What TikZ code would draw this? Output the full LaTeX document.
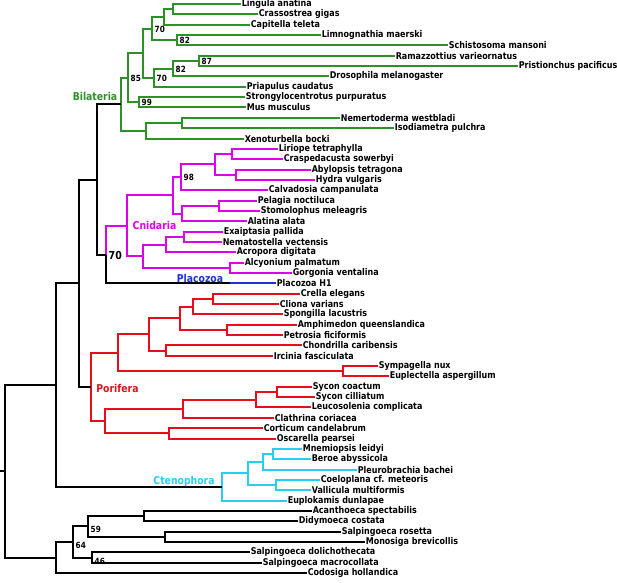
\documentclass[tikz,border=0pt]{standalone}
\usepackage{fontspec}
\setmainfont{DejaVu Sans}
\newfontfamily\treefont{DejaVu Sans}[FakeStretch=0.86]
\definecolor{bilgreen}{RGB}{45,145,40}
\definecolor{cnidmag}{RGB}{220,0,235}
\definecolor{placblue}{RGB}{30,50,205}
\definecolor{porred}{RGB}{230,15,25}
\definecolor{ctecyan}{RGB}{40,205,240}
\begin{document}
\begin{tikzpicture}[x=1pt,y=-1pt]

	\tikzstyle{leaf}=[anchor=west,inner sep=0.6pt,font=\treefont\fontsize{9.3}{10}\selectfont\bfseries]
	\tikzstyle{sup}=[anchor=west,inner sep=0pt,xshift=2.5pt,font=\treefont\fontsize{8.5}{9}\selectfont\bfseries]
	\tikzstyle{clade}=[inner sep=0pt,font=\treefont\fontsize{10.8}{12}\selectfont\bfseries]
	\tikzstyle{branch}=[line width=2pt]
	\useasboundingbox (0,0) rectangle (617,582);

	% leaves
	\node[leaf] (lin) at (241,4) {Lingula anatina};
	\node[leaf] (cra) at (258,14) {Crassostrea gigas};
	\node[leaf] (cap) at (250,25) {Capitella teleta};
	\node[leaf] (lim) at (321,35) {Limnognathia maerski};
	\node[leaf] (sch) at (448,45) {Schistosoma mansoni};
	\node[leaf] (ram) at (395,56) {Ramazzottius varieornatus};
	\node[leaf] (pri) at (518,66) {Pristionchus pacificus};
	\node[leaf] (dro) at (329,76) {Drosophila melanogaster};
	\node[leaf] (pra) at (246,87) {Priapulus caudatus};
	\node[leaf] (str) at (245,97) {Strongylocentrotus purpuratus};
	\node[leaf] (mus) at (246,107) {Mus musculus};
	\node[leaf] (nem) at (340,118) {Nemertoderma westbladi};
	\node[leaf] (iso) at (394,128) {Isodiametra pulchra};
	\node[leaf] (xen) at (244,139) {Xenoturbella bocki};
	\node[leaf] (lir) at (278,149) {Liriope tetraphylla};
	\node[leaf] (cpd) at (283,159) {Craspedacusta sowerbyi};
	\node[leaf] (aby) at (311,170) {Abylopsis tetragona};
	\node[leaf] (hyd) at (315,180) {Hydra vulgaris};
	\node[leaf] (cal) at (268,190) {Calvadosia campanulata};
	\node[leaf] (pel) at (257,201) {Pelagia noctiluca};
	\node[leaf] (sto) at (260,211) {Stomolophus meleagris};
	\node[leaf] (ala) at (247,221) {Alatina alata};
	\node[leaf] (exa) at (223,232) {Exaiptasia pallida};
	\node[leaf] (nvc) at (222,242) {Nematostella vectensis};
	\node[leaf] (acr) at (236,252) {Acropora digitata};
	\node[leaf] (alc) at (244,263) {Alcyonium palmatum};
	\node[leaf] (gor) at (292,273) {Gorgonia ventalina};
	\node[leaf] (plh) at (276,283) {Placozoa H1};
	\node[leaf] (cre) at (300,294) {Crella elegans};
	\node[leaf] (cli) at (279,304) {Cliona varians};
	\node[leaf] (spo) at (283,314) {Spongilla lacustris};
	\node[leaf] (amp) at (297,325) {Amphimedon queenslandica};
	\node[leaf] (pet) at (283,335) {Petrosia ficiformis};
	\node[leaf] (cho) at (302,345) {Chondrilla caribensis};
	\node[leaf] (irc) at (273,356) {Ircinia fasciculata};
	\node[leaf] (sym) at (378,366) {Sympagella nux};
	\node[leaf] (eup) at (389,376) {Euplectella aspergillum};
	\node[leaf] (syc) at (312,387) {Sycon coactum};
	\node[leaf] (syi) at (315,397) {Sycon cilliatum};
	\node[leaf] (leu) at (311,407) {Leucosolenia complicata};
	\node[leaf] (cla) at (274,418) {Clathrina coriacea};
	\node[leaf] (cor) at (263,428) {Corticum candelabrum};
	\node[leaf] (osc) at (276,439) {Oscarella pearsei};
	\node[leaf] (mne) at (302,449) {Mnemiopsis leidyi};
	\node[leaf] (ber) at (311,459) {Beroe abyssicola};
	\node[leaf] (ple) at (357,470) {Pleurobrachia bachei};
	\node[leaf] (coe) at (320,480) {Coeloplana cf. meteoris};
	\node[leaf] (val) at (311,490) {Vallicula multiformis};
	\node[leaf] (epl) at (287,501) {Euplokamis dunlapae};
	\node[leaf] (aca) at (312,511) {Acanthoeca spectabilis};
	\node[leaf] (did) at (298,521) {Didymoeca costata};
	\node[leaf] (sro) at (341,532) {Salpingoeca rosetta};
	\node[leaf] (mon) at (365,542) {Monosiga brevicollis};
	\node[leaf] (sdo) at (250,552) {Salpingoeca dolichothecata};
	\node[leaf] (sma) at (262,563) {Salpingoeca macrocollata};
	\node[leaf] (cod) at (307,573) {Codosiga hollandica};

	% internal nodes
	\coordinate (b1) at (173,9);
	\coordinate (b2) at (164,17);
	\coordinate (b3) at (177,40);
	\coordinate (b4) at (152,29);
	\coordinate (b5) at (199,61);
	\coordinate (b6) at (173,69);
	\coordinate (b7) at (154,78);
	\coordinate (b8) at (143,53);
	\coordinate (b9) at (139,102);
	\coordinate (b10) at (128,78);
	\coordinate (b11) at (182,123);
	\coordinate (b12) at (146,131);
	\coordinate (b13) at (121,104);
	\coordinate (c1) at (232,154);
	\coordinate (c2) at (236,175);
	\coordinate (c3) at (215,164);
	\coordinate (c4) at (181,177);
	\coordinate (c5) at (219,206);
	\coordinate (c6) at (182,214);
	\coordinate (c7) at (173,195);
	\coordinate (c8) at (184,237);
	\coordinate (c9) at (166,245);
	\coordinate (c10) at (230,268);
	\coordinate (c11) at (143,256);
	\coordinate (c12) at (127,226);
	\coordinate (c13) at (106,255);
	\coordinate (pz) at (230,283);
	\coordinate (p1) at (213,299);
	\coordinate (p2) at (193,307);
	\coordinate (p3) at (227,330);
	\coordinate (p4) at (180,318);
	\coordinate (p5) at (166,351);
	\coordinate (p6) at (149,334);
	\coordinate (p7) at (343,371);
	\coordinate (p8) at (118,353);
	\coordinate (p9) at (277,392);
	\coordinate (p10) at (256,400);
	\coordinate (p11) at (183,409);
	\coordinate (p12) at (169,433);
	\coordinate (p13) at (105,421);
	\coordinate (p14) at (91,387);
	\coordinate (e1) at (273,454);
	\coordinate (e2) at (263,462);
	\coordinate (e3) at (276,485);
	\coordinate (e4) at (248,473);
	\coordinate (e5) at (222,487);
	\coordinate (h1) at (144,516);
	\coordinate (h2) at (165,537);
	\coordinate (h3) at (88,526);
	\coordinate (h4) at (92,558);
	\coordinate (h5) at (73,542);
	\coordinate (h6) at (56,558);
	\coordinate (t1) at (97,180);
	\coordinate (t2) at (79,283);
	\coordinate (t3) at (56,385);
	\coordinate (root) at (5,471);
	\coordinate (stub) at (0,471);

	% Bilateria
	\draw[branch,bilgreen] (b1) |- (lin.west) (b1) |- (cra.west);
	\draw[branch,bilgreen] (b2) |- (b1) (b2) |- (cap.west);
	\draw[branch,bilgreen] (b3) |- (lim.west) (b3) |- (sch.west);
	\draw[branch,bilgreen] (b4) |- (b2) (b4) |- (b3);
	\draw[branch,bilgreen] (b5) |- (ram.west) (b5) |- (pri.west);
	\draw[branch,bilgreen] (b6) |- (b5) (b6) |- (dro.west);
	\draw[branch,bilgreen] (b7) |- (b6) (b7) |- (pra.west);
	\draw[branch,bilgreen] (b8) |- (b4) (b8) |- (b7);
	\draw[branch,bilgreen] (b9) |- (str.west) (b9) |- (mus.west);
	\draw[branch,bilgreen] (b10) |- (b8) (b10) |- (b9);
	\draw[branch,bilgreen] (b11) |- (nem.west) (b11) |- (iso.west);
	\draw[branch,bilgreen] (b12) |- (b11) (b12) |- (xen.west);
	\draw[branch,bilgreen] (b13) |- (b10) (b13) |- (b12);

	% Cnidaria
	\draw[branch,cnidmag] (c1) |- (lir.west) (c1) |- (cpd.west);
	\draw[branch,cnidmag] (c2) |- (aby.west) (c2) |- (hyd.west);
	\draw[branch,cnidmag] (c3) |- (c1) (c3) |- (c2);
	\draw[branch,cnidmag] (c4) |- (c3) (c4) |- (cal.west);
	\draw[branch,cnidmag] (c5) |- (pel.west) (c5) |- (sto.west);
	\draw[branch,cnidmag] (c6) |- (c5) (c6) |- (ala.west);
	\draw[branch,cnidmag] (c7) |- (c4) (c7) |- (c6);
	\draw[branch,cnidmag] (c8) |- (exa.west) (c8) |- (nvc.west);
	\draw[branch,cnidmag] (c9) |- (c8) (c9) |- (acr.west);
	\draw[branch,cnidmag] (c10) |- (alc.west) (c10) |- (gor.west);
	\draw[branch,cnidmag] (c11) |- (c9) (c11) |- (c10);
	\draw[branch,cnidmag] (c12) |- (c7) (c12) |- (c11);
	\draw[branch,cnidmag] (c13) |- (c12);

	% Placozoa
	\draw[branch] (c13) |- (pz);
	\draw[branch,placblue] (pz) -- (plh.west);

	% Porifera
	\draw[branch,porred] (p1) |- (cre.west) (p1) |- (cli.west);
	\draw[branch,porred] (p2) |- (p1) (p2) |- (spo.west);
	\draw[branch,porred] (p3) |- (amp.west) (p3) |- (pet.west);
	\draw[branch,porred] (p4) |- (p2) (p4) |- (p3);
	\draw[branch,porred] (p5) |- (cho.west) (p5) |- (irc.west);
	\draw[branch,porred] (p6) |- (p4) (p6) |- (p5);
	\draw[branch,porred] (p7) |- (sym.west) (p7) |- (eup.west);
	\draw[branch,porred] (p8) |- (p6) (p8) |- (p7);
	\draw[branch,porred] (p9) |- (syc.west) (p9) |- (syi.west);
	\draw[branch,porred] (p10) |- (p9) (p10) |- (leu.west);
	\draw[branch,porred] (p11) |- (p10) (p11) |- (cla.west);
	\draw[branch,porred] (p12) |- (cor.west) (p12) |- (osc.west);
	\draw[branch,porred] (p13) |- (p11) (p13) |- (p12);
	\draw[branch,porred] (p14) |- (p8) (p14) |- (p13);

	% Ctenophora
	\draw[branch,ctecyan] (e1) |- (mne.west) (e1) |- (ber.west);
	\draw[branch,ctecyan] (e2) |- (e1) (e2) |- (ple.west);
	\draw[branch,ctecyan] (e3) |- (coe.west) (e3) |- (val.west);
	\draw[branch,ctecyan] (e4) |- (e2) (e4) |- (e3);
	\draw[branch,ctecyan] (e5) |- (e4) (e5) |- (epl.west);

	% choanoflagellates and backbone
	\draw[branch] (h1) |- (aca.west) (h1) |- (did.west);
	\draw[branch] (h2) |- (sro.west) (h2) |- (mon.west);
	\draw[branch] (h3) |- (h1) (h3) |- (h2);
	\draw[branch] (h4) |- (sdo.west) (h4) |- (sma.west);
	\draw[branch] (h5) |- (h3) (h5) |- (h4);
	\draw[branch] (h6) |- (h5) (h6) |- (cod.west);
	\draw[branch] (t1) |- (b13) (t1) |- (c13);
	\draw[branch] (t2) |- (t1) (t2) |- (p14);
	\draw[branch] (t3) |- (t2) (t3) |- (e5);
	\draw[branch] (root) |- (t3) (root) |- (h6);
	\draw[branch] (stub) -- (root);

	% support values
	\node[sup] (s1) at (b4) {70};
	\node[sup] (s2) at (b3) {82};
	\node[sup] (s3) at (b5) {87};
	\node[sup] (s4) at (b6) {82};
	\node[sup] (s5) at (b7) {70};
	\node[sup] (s6) at (b10) {85};
	\node[sup] (s7) at (b9) {99};
	\node[sup] (s8) at (c4) {98};
	\node[sup,font=\treefont\fontsize{11}{12}\selectfont\bfseries] (s9) at (c13) {70};
	\node[sup,yshift=-3pt] (s10) at (h3) {59};
	\node[sup,yshift=-3pt] (s11) at (h5) {64};
	\node[sup,yshift=-3pt] (s12) at (h4) {46};

	% clade names
	\node[clade,text=bilgreen] (bil) at (95,96) {Bilateria};
	\node[clade,text=cnidmag] (cni) at (154.5,225) {Cnidaria};
	\node[clade,text=placblue] (pla) at (200,278) {Placozoa};
	\node[clade,text=porred] (por) at (117.5,388) {Porifera};
	\node[clade,text=ctecyan] (cte) at (184,482) {Ctenophora};

\end{tikzpicture}
\end{document}
